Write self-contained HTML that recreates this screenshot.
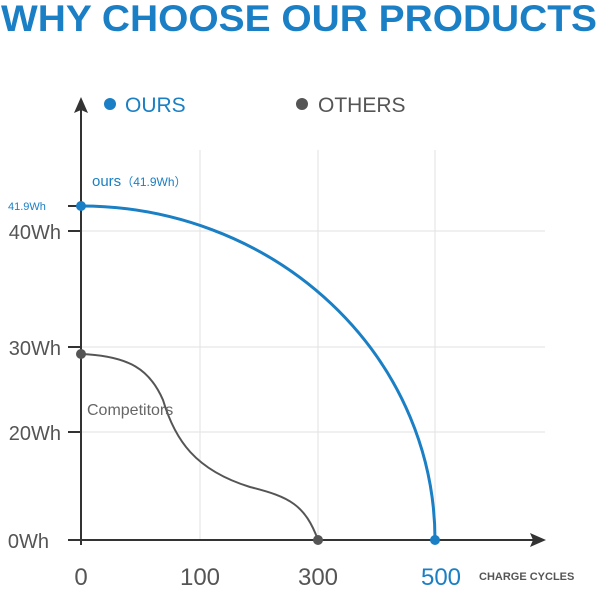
<!DOCTYPE html>
<html><head><style>
body{margin:0;width:600px;height:586px;background:#fff;overflow:hidden}
</style></head><body>
<svg width="600" height="586" xmlns="http://www.w3.org/2000/svg" font-family="Liberation Sans, Arial, sans-serif">
<text x="299" y="31" text-anchor="middle" font-size="37" font-weight="bold" fill="#1a7fc4" textLength="596" lengthAdjust="spacingAndGlyphs">WHY CHOOSE OUR PRODUCTS</text>
<circle cx="110" cy="104" r="6" fill="#1a7fc4"/>
<text x="125" y="112" font-size="21" fill="#1a7fc4">OURS</text>
<circle cx="302" cy="104" r="6" fill="#555"/>
<text x="318" y="112" font-size="21" fill="#555">OTHERS</text>
<g stroke="#e2e2e2" stroke-width="1">
<line x1="200" y1="150" x2="200" y2="540"/>
<line x1="318" y1="150" x2="318" y2="540"/>
<line x1="435" y1="150" x2="435" y2="540"/>
<line x1="81" y1="231" x2="545" y2="231"/>
<line x1="81" y1="347" x2="545" y2="347"/>
<line x1="81" y1="432" x2="545" y2="432"/>
</g>
<g stroke="#333" stroke-width="2">
<line x1="81" y1="545" x2="81" y2="105"/>
<line x1="68" y1="540" x2="540" y2="540"/>
<line x1="68" y1="206" x2="81" y2="206"/>
<line x1="68" y1="231" x2="81" y2="231"/>
<line x1="68" y1="347" x2="81" y2="347"/>
<line x1="68" y1="432" x2="81" y2="432"/>
</g>
<path d="M81 97 L74 113 L81 110 L88 113Z" fill="#333"/>
<path d="M546 540 L530 533 L533 540 L530 547Z" fill="#333"/>
<path d="M81 354 C130 356 150 370 163 400 C175 440 195 470 250 487 C290 497 305 505 318 540" fill="none" stroke="#555" stroke-width="2"/>
<path d="M81 206 A354 334 0 0 1 435 540" fill="none" stroke="#1a7fc4" stroke-width="3"/>
<circle cx="81" cy="206" r="5" fill="#1a7fc4"/>
<circle cx="435" cy="540" r="5" fill="#1a7fc4"/>
<circle cx="81" cy="354" r="5" fill="#555"/>
<circle cx="318" cy="540" r="5" fill="#555"/>
<text x="92" y="186" font-size="15" fill="#1a7fc4">ours<tspan font-size="12">（41.9Wh）</tspan></text>
<text x="8" y="210" font-size="11" fill="#1a7fc4">41.9Wh</text>
<g font-size="20" fill="#555">
<text x="61" y="239" text-anchor="end">40Wh</text>
<text x="61" y="355" text-anchor="end">30Wh</text>
<text x="61" y="440" text-anchor="end">20Wh</text>
<text x="49" y="548" text-anchor="end">0Wh</text>
</g>
<text x="87" y="415" font-size="16" fill="#666">Competitors</text>
<g font-size="24" fill="#555" text-anchor="middle">
<text x="81" y="585">0</text>
<text x="200" y="585">100</text>
<text x="318" y="585">300</text>
<text x="441" y="585" fill="#1a7fc4">500</text>
</g>
<text x="479" y="580" font-size="11" font-weight="bold" fill="#555">CHARGE CYCLES</text>
</svg>
</body></html>
